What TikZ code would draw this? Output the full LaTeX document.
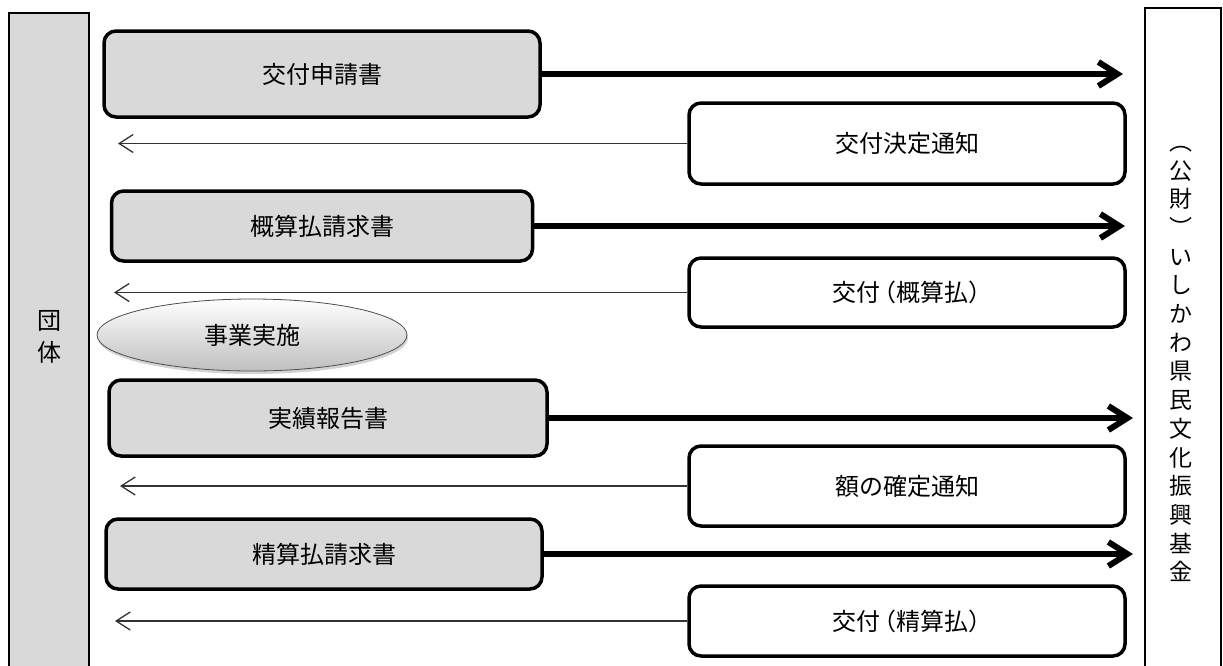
\documentclass[tikz,border=0pt]{standalone}
\usepackage{fontspec}
\setmainfont{Noto Sans CJK JP}
\usetikzlibrary{arrows.meta,shapes.geometric,shadows}

\definecolor{boxgray}{HTML}{D9D9D9}

\begin{document}
\begin{tikzpicture}[x=1pt,y=-1pt,
		doc/.style={draw,line width=3.5pt,rounded corners=12pt,inner sep=0pt,minimum width=436pt,font=\fontsize{24}{28}\selectfont},
		req/.style={doc,fill=boxgray},
		reply/.style={doc,fill=white},
		sendarrow/.style={line width=6pt,-{Straight Barb[length=19pt,width=24pt]}},
		backarrow/.style={line width=1.3pt,black!80,-{Straight Barb[length=14pt,width=18pt]}}]
		\useasboundingbox (0,0) rectangle (1223,665);
		\clip (0,0) rectangle (1223,665);

		% the two sides
		\draw[line width=2pt,fill=boxgray] (9,13) rectangle (89,690);
		\node[font=\fontsize{24}{32}\selectfont,align=center] (dantai) at (49,337) {団\\体};
		\draw[line width=2pt] (1145,8) rectangle (1221,690);
		\node[font=\fontsize{23}{28.7}\selectfont,align=center] (kikin) at (1181,364)
			{︵\\公\\財\\︶\\い\\し\\か\\わ\\県\\民\\文\\化\\振\\興\\基\\金};

		% requests from the left
		\node[req,minimum height=86pt] (shinsei) at (322,74) {交付申請書};
		\node[req,minimum height=70pt,minimum width=421pt] (gaisan) at (322,226) {概算払請求書};
		\node[req,minimum height=76pt,minimum width=438pt] (jisseki) at (328,418) {実績報告書};
		\node[req,minimum height=70pt] (seisan) at (324,554) {精算払請求書};

		% replies from the right
		\node[reply,minimum height=81pt] (kettei) at (907,143.5) {交付決定通知};
		\node[reply,minimum height=69pt] (kofuA) at (907,292.5) {交付\kern-0.35em（概算払）\kern-0.45em};
		\node[reply,minimum height=80pt] (kakutei) at (907,486) {額の確定通知};
		\node[reply,minimum height=70pt] (kofuB) at (907,621) {交付\kern-0.35em（精算払）\kern-0.45em};

		\node[ellipse,draw=black!70,line width=0.8pt,top color=white,bottom color=black!25,
			minimum width=310pt,minimum height=72pt,font=\fontsize{24}{28}\selectfont,
			drop shadow={opacity=0.35,shadow xshift=1pt,shadow yshift=-3pt}] (jigyo) at (252,335) {事業実施};

		% arrow ends
		\coordinate (in1) at (1123,74);
		\coordinate (in2) at (1125,226);
		\coordinate (in3) at (1133,418);
		\coordinate (in4) at (1133,554);
		\coordinate (out1) at (118,143.5);
		\coordinate (out2) at (114,292.5);
		\coordinate (out3) at (120,486);
		\coordinate (out4) at (115,621);

		\draw[sendarrow] (shinsei) -- (in1);
		\draw[sendarrow] (gaisan) -- (in2);
		\draw[sendarrow] (jisseki) -- (in3);
		\draw[sendarrow] (seisan) -- (in4);
		\draw[backarrow] (kettei) -- (out1);
		\draw[backarrow] (kofuA) -- (out2);
		\draw[backarrow] (kakutei) -- (out3);
		\draw[backarrow] (kofuB) -- (out4);
\end{tikzpicture}
\end{document}
